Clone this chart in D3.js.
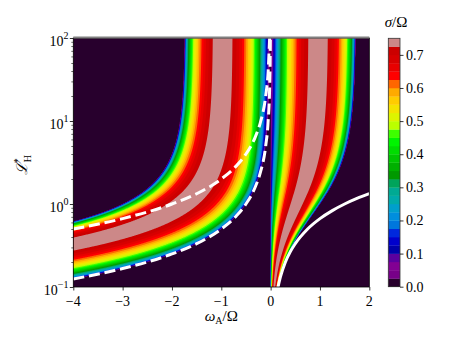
<!DOCTYPE html>
<html><head><meta charset="utf-8">
<script src="https://cdn.jsdelivr.net/npm/d3@7"></script>
<style>
body{margin:0;background:#fff}
svg{display:block}
text{font-family:"Liberation Serif","Times New Roman","DejaVu Serif",serif;fill:#000}
</style>
</head><body>
<svg id="c" width="461" height="346" font-family="Liberation Serif, DejaVu Serif, serif"></svg>
<script>
// ---- data ----
const omegaTicks = [-4, -3, -2, -1, 0, 1, 2];
const lhMajorTicks = [0.1, 1, 10, 100];
const lhTickExps = ["−1", "0", "1", "2"];
const lhMinorTicks = [0.2,0.3,0.4,0.5,0.6,0.7,0.8,0.9,2,3,4,5,6,7,8,9,20,30,40,50,60,70,80,90];
const sigmaLevels = [0,0.025,0.05,0.075,0.1,0.125,0.15,0.175,0.2,0.225,0.25,0.275,0.3,0.325,0.35,0.375,0.4,0.425,0.45,0.475,0.5,0.525,0.55,0.575,0.6,0.625,0.65,0.675,0.7,0.725,0.75];
const cbarTicks = [0, 0.1, 0.2, 0.3, 0.4, 0.5, 0.6, 0.7];
const shearRate = [1.5];           // Keplerian shear q (Omega = 1)
// white reference curves (omega_A/Omega, L*_H)
const lowerDashed = [[-4,0.125],[-3,0.167],[-2,0.25],[-1.5,0.333],[-1,0.5],[-0.7,0.714],[-0.5,1],[-0.3,1.67],[-0.2,2.5],[-0.1,5],[-0.05,10],[-0.02,25],[-0.01,50],[-0.005,100]];
const upperDashed = [[-4,0.5],[-3,0.667],[-2,1],[-1.5,1.33],[-1,2],[-0.7,2.86],[-0.5,4],[-0.3,6.67],[-0.2,10],[-0.1,20],[-0.05,40],[-0.02,100]];
const solidLine = [[0.15,0.1],[0.2,0.133],[0.3,0.2],[0.4,0.267],[0.5,0.333],[0.75,0.5],[1,0.667],[1.25,0.833],[1.5,1],[1.75,1.167],[2,1.333]];

// nipy_spectral colour table
const cmapStops = [0,0.05,0.1,0.15,0.2,0.25,0.3,0.35,0.4,0.45,0.5,0.55,0.6,0.65,0.7,0.75,0.8,0.85,0.9,0.95,1];
const cmapColors = ["#000000","#770088","#880099","#0000aa","#0000dd","#0077dd","#0099dd","#00aaaa","#00aa88","#009900","#00bb00","#00dd00","#00ff00","#bbff00","#eeee00","#ffcc00","#ff9900","#ff0000","#dd0000","#cc0000","#cccccc"];

// ---- growth rate from the local Hall-MRI dispersion relation ----
function growthRate(A, L) {
  const q = shearRate[0];
  const Hh = A / L;
  const a = A*A - 2*q + 2*Hh;
  const b = A*A + (2 - q)*Hh;
  const B = a + b + (Hh - 2)*(Hh - 2);
  const C = a*b;
  const D = Math.max(B*B - 4*C, 0);
  const s = Math.sqrt(D);
  let X = B > 0 ? (-2*C)/(B + s) : (-B + s)/2;
  return X > 0 ? Math.sqrt(X) : 0;
}

const FONT = "Liberation Serif, DejaVu Serif, serif";
const plot = {left:73.3, right:369.3, top:38, bottom:287};
const xs = d3.scaleLinear().domain([-4, 2]).range([plot.left, plot.right]);
const ys = d3.scaleLog().domain([0.1, 100]).range([plot.bottom, plot.top]);
const cmap = d3.scaleLinear().domain(cmapStops).range(cmapColors).interpolate(d3.interpolateRgb);
const vmax = sigmaLevels[sigmaLevels.length-1];
const bandColor = k => cmap(((sigmaLevels[k] + sigmaLevels[k+1]) / 2) / vmax);

const svg = d3.select("#c");

// field
const nx = 600, ny = 500;
const x0 = xs.domain()[0], x1 = xs.domain()[1];
const lg0 = Math.log10(ys.domain()[1]), lg1 = Math.log10(ys.domain()[0]);
const dA = (x1 - x0) / nx, dL = (lg0 - lg1) / ny;
const vals = new Float64Array(nx * ny);
for (let j = 0; j < ny; j++) {
  const L = Math.pow(10, lg0 - (j + 0.5) * dL);
  for (let i = 0; i < nx; i++) {
    vals[j*nx + i] = growthRate(x0 + (i + 0.5) * dA, L);
  }
}
const contours = d3.contours().size([nx, ny]).thresholds(sigmaLevels.slice(0, -1))(vals);
const proj = d3.geoTransform({point: function(x, y) {
  this.stream.point(xs(x0 + x * dA), ys(Math.pow(10, lg0 - y * dL)));
}});
const path = d3.geoPath(proj);
const gField = svg.append("g");
contours.forEach((c, k) => {
  gField.append("path").attr("d", path(c)).attr("fill", bandColor(k)).attr("stroke", "none");
});

// white reference lines
svg.append("clipPath").attr("id", "clip").append("rect")
  .attr("x", plot.left).attr("y", plot.top).attr("width", plot.right - plot.left).attr("height", plot.bottom - plot.top);
const line = d3.line().x(d => xs(d[0])).y(d => ys(d[1])).curve(d3.curveMonotoneX);
const gLines = svg.append("g").attr("clip-path", "url(#clip)");
[lowerDashed, upperDashed].forEach(dat => {
  gLines.append("path").attr("d", line(dat)).attr("fill", "none").attr("stroke", "#fff")
    .attr("stroke-width", 3).attr("stroke-dasharray", "11.1,4.8");
});
gLines.append("path").attr("d", line(solidLine)).attr("fill", "none").attr("stroke", "#fff").attr("stroke-width", 3);

// frame
svg.append("rect").attr("x", plot.left).attr("y", plot.top).attr("width", plot.right - plot.left)
  .attr("height", plot.bottom - plot.top).attr("fill", "none").attr("stroke", "#000").attr("stroke-width", 0.8);
svg.append("line").attr("x1", plot.left).attr("x2", plot.right).attr("y1", plot.top - 0.5).attr("y2", plot.top - 0.5)
  .attr("stroke", "#808080").attr("stroke-width", 2);

// x axis
const xAxis = d3.axisBottom(xs).tickValues(omegaTicks).tickSize(3.5).tickFormat("");
const gx = svg.append("g").attr("transform", `translate(0,${plot.bottom})`).call(xAxis);
gx.select(".domain").remove();
gx.selectAll(".tick line").attr("stroke", "#000").attr("stroke-width", 0.8);
svg.selectAll(".xlab").data(omegaTicks).enter().append("text")
  .attr("font-family", FONT)
  .attr("x", d => xs(d)).attr("y", 306).attr("text-anchor", "middle").attr("font-size", 14)
  .text(d => d < 0 ? "−" + Math.abs(d) : String(d));

// y axis
const gy = svg.append("g").attr("transform", `translate(${plot.left},0)`)
  .call(d3.axisLeft(ys).tickValues(lhMajorTicks).tickSize(3.5).tickFormat(""));
gy.select(".domain").remove();
gy.selectAll(".tick line").attr("stroke", "#000").attr("stroke-width", 0.8);
const gy2 = svg.append("g").attr("transform", `translate(${plot.left},0)`)
  .call(d3.axisLeft(ys).tickValues(lhMinorTicks).tickSize(2).tickFormat(""));
gy2.select(".domain").remove();
gy2.selectAll(".tick line").attr("stroke", "#000").attr("stroke-width", 0.6);
lhMajorTicks.forEach((v, k) => {
  const t = svg.append("text").attr("font-family", FONT).attr("x", 68.5).attr("y", ys(v) + 7.5).attr("text-anchor", "end").attr("font-size", 14);
  t.append("tspan").text("10");
  t.append("tspan").attr("dy", -7).attr("font-size", 10).text(lhTickExps[k]);
});

// axis labels
const xl = svg.append("text").attr("font-family", FONT).attr("x", 221.3).attr("y", 321).attr("text-anchor", "middle").attr("font-size", 15);
xl.append("tspan").attr("font-style", "italic").text("ω");
xl.append("tspan").attr("dy", 3).attr("font-size", 10).text("A");
xl.append("tspan").attr("dy", -3).text("/Ω");

const yl = svg.append("text").attr("font-family", FONT).attr("transform", "translate(27,165) rotate(-90)").attr("text-anchor", "middle").attr("font-size", 15);
yl.append("tspan").attr("font-style", "italic").text("ℒ");
yl.append("tspan").attr("dy", -6).attr("font-size", 10).text("*");
yl.append("tspan").attr("dx", -4).attr("dy", 10).attr("font-size", 10).text("H");

// colorbar
const cb = {left:388.3, right:400, top:38.3, bottom:286.7};
const cs = d3.scaleLinear().domain([0, vmax]).range([cb.bottom, cb.top]);
const gcb = svg.append("g");
sigmaLevels.slice(0, -1).forEach((lv, k) => {
  gcb.append("rect").attr("x", cb.left).attr("width", cb.right - cb.left)
    .attr("y", cs(sigmaLevels[k+1])).attr("height", cs(lv) - cs(sigmaLevels[k+1]) + 0.3)
    .attr("fill", bandColor(k));
});
gcb.append("rect").attr("x", cb.left).attr("y", cb.top).attr("width", cb.right - cb.left)
  .attr("height", cb.bottom - cb.top).attr("fill", "none").attr("stroke", "#333").attr("stroke-width", 0.8);
const gcbA = svg.append("g").attr("transform", `translate(${cb.right},0)`)
  .call(d3.axisRight(cs).tickValues(cbarTicks).tickSize(3.5).tickFormat(""));
gcbA.select(".domain").remove();
gcbA.selectAll(".tick line").attr("stroke", "#000").attr("stroke-width", 0.8);
svg.selectAll(".cblab").data(cbarTicks).enter().append("text").attr("font-family", FONT)
  .attr("x", 406).attr("y", d => cs(d) + 5).attr("font-size", 14).text(d => d.toFixed(1));
const ct = svg.append("text").attr("font-family", FONT).attr("x", 396).attr("y", 27).attr("text-anchor", "middle").attr("font-size", 15);
ct.append("tspan").attr("font-style", "italic").text("σ");
ct.append("tspan").text("/Ω");
</script>
</body></html>
